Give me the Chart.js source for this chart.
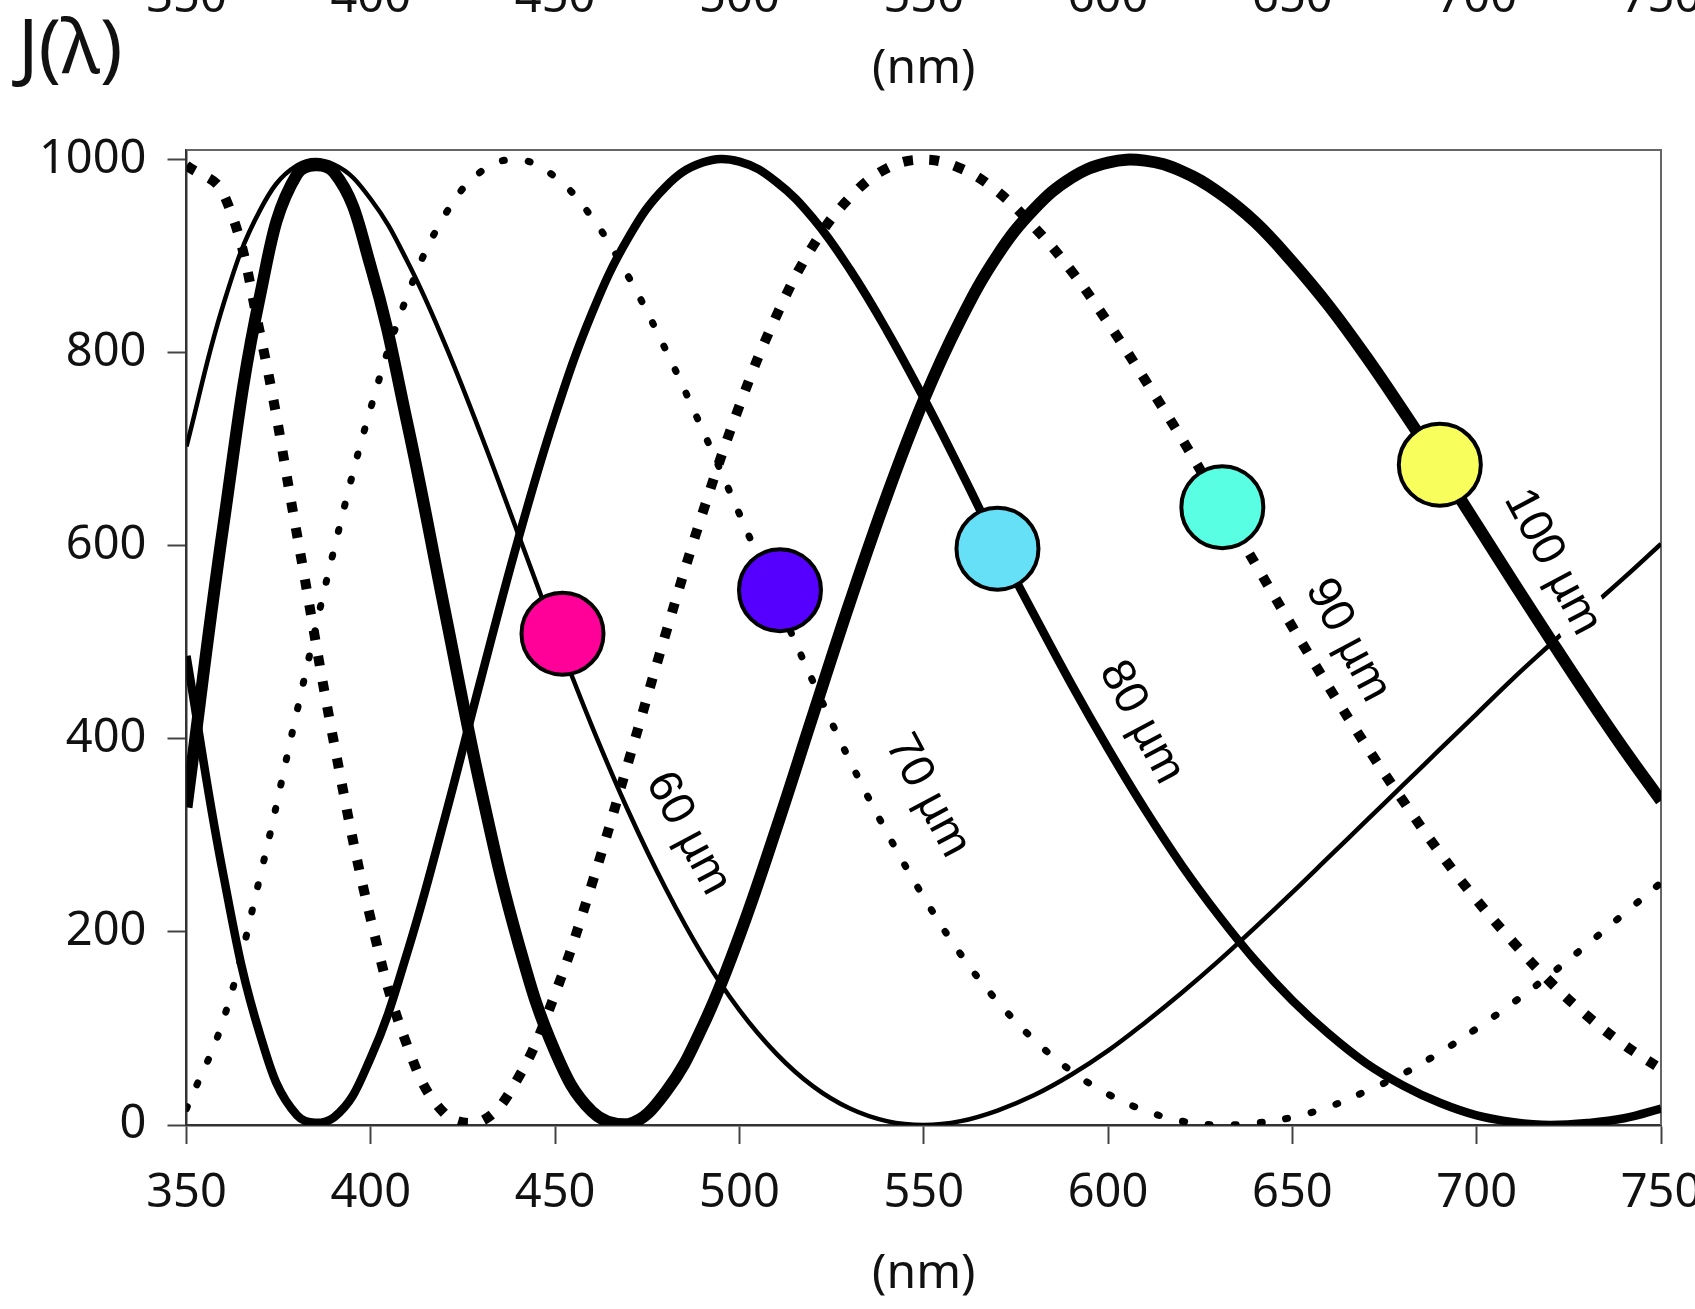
<!DOCTYPE html>
<html>
<head>
<meta charset="utf-8">
<title>J(λ)</title>
<script src="https://cdn.jsdelivr.net/npm/chart.js@4.4.1/dist/chart.umd.min.js"></script>
<style>
  html, body { margin: 0; padding: 0; background: #fff; overflow: hidden; }
  #wrap { width: 1695px; height: 1309px; }
  canvas { display: block; }
</style>
</head>
<body>
<div id="wrap"><canvas id="chart" width="1695" height="1309"></canvas></div>
<script>
// wavelength grid, nm
const wavelengths = [350, 360, 370, 380, 390, 400, 410, 420, 430, 440, 450, 460, 470, 480, 490, 500, 510, 520, 530, 540, 550,
  560, 570, 580, 590, 600, 610, 620, 630, 640, 650, 660, 670, 680, 690, 700, 710, 720, 730, 740, 750];

// transmitted intensity for each plate thickness
const j60 = [703, 850, 948, 994, 995, 959, 894, 810, 714, 612, 510, 413, 324, 245, 176, 119, 74, 40, 17, 4, 0,
  4, 15, 31, 52, 77, 106, 137, 170, 205, 241, 278, 315, 352, 389, 426, 463, 498, 533, 567, 602];
const j70 = [17, 109, 258, 429, 596, 743, 860, 942, 988, 1000, 982, 940, 878, 803, 720, 633, 545, 459, 377, 303, 236,
  177, 128, 88, 56, 32, 15, 4, 0, 2, 8, 19, 35, 53, 75, 100, 127, 156, 187, 219, 251];
const j80 = [486, 259, 93, 10, 8, 70, 180, 317, 464, 607, 735, 841, 920, 972, 997, 998, 977, 939, 886, 823, 753,
  678, 601, 528, 457, 390, 327, 269, 217, 170, 129, 94, 64, 41, 23, 10, 3, 0, 2, 7, 17];
const j90 = [994, 965, 819, 611, 396, 213, 81, 12, 4, 49, 136, 250, 378, 509, 634, 745, 838, 911, 961, 991, 1000,
  991, 967, 930, 885, 831, 772, 711, 646, 581, 516, 453, 393, 336, 282, 233, 189, 148, 113, 83, 58];
const j100 = [329, 621, 860, 985, 987, 889, 725, 534, 346, 189, 76, 14, 1, 34, 102, 196, 307, 425, 542, 652, 751,
  834, 901, 949, 981, 997, 999, 988, 966, 935, 894, 848, 796, 740, 682, 622, 562, 503, 445, 389, 336];

const xTicks = [350, 400, 450, 500, 550, 600, 650, 700, 750];
const yTicks = [0, 200, 400, 600, 800, 1000];

// coloured markers
const markerNm = [452, 511, 570, 631, 690];
const markerJ = [509, 554, 597, 640, 684];
const markerColors = ['#ff0099', '#5500ff', '#66e0f7', '#58ffe2', '#f8ff5c'];

// curve names and where they sit (nm, J)
const curveNames = ['60 µm', '70 µm', '80 µm', '90 µm', '100 µm'];
const nameNm = [486, 551, 609, 665, 720.5];
const nameJ = [302, 341, 417, 502, 583];

Chart.defaults.font.family = "'Noto Sans', sans-serif";
Chart.defaults.color = '#111';

function points(values) {
  return wavelengths.map((x, i) => ({ x: x, y: values[i] }));
}

function curve(values, width, dash, cap) {
  return {
    data: points(values),
    borderColor: '#000',
    borderWidth: width,
    borderDash: dash,
    borderCapStyle: cap,
    pointRadius: 0,
    tension: 0.4,
    fill: false,
    order: 1
  };
}

const decorations = {
  id: 'decorations',
  beforeDatasetsDraw(chart) {
    // top and right edges of the frame
    const { ctx, chartArea: a } = chart;
    ctx.save();
    ctx.strokeStyle = '#666';
    ctx.lineWidth = 2;
    ctx.beginPath();
    ctx.moveTo(a.left, a.top);
    ctx.lineTo(a.right, a.top);
    ctx.lineTo(a.right, a.bottom);
    ctx.stroke();
    ctx.restore();
  },
  afterDatasetsDraw(chart) {
    const { ctx, scales } = chart;
    ctx.save();
    ctx.font = "47px 'Liberation Sans', Arial, sans-serif";
    ctx.textAlign = 'center';
    ctx.textBaseline = 'middle';
    curveNames.forEach((name, i) => {
      const px = scales.x.getPixelForValue(nameNm[i]);
      const py = scales.y.getPixelForValue(nameJ[i]);
      const w = ctx.measureText(name).width;
      ctx.save();
      ctx.translate(px, py);
      ctx.rotate(62 * Math.PI / 180);
      ctx.fillStyle = '#fff';
      ctx.fillRect(-w / 2 - 8, -27, w + 16, 54);
      ctx.fillStyle = '#000';
      ctx.fillText(name, 0, 0);
      ctx.restore();
    });
    ctx.restore();
  },
  afterDraw(chart) {
    const { ctx, scales, chartArea: a } = chart;
    ctx.save();
    ctx.fillStyle = '#111';
    // tick row of the panel above
    ctx.font = "47px 'Noto Sans', sans-serif";
    ctx.textAlign = 'center';
    ctx.textBaseline = 'alphabetic';
    xTicks.forEach(v => ctx.fillText(String(v), scales.x.getPixelForValue(v), 12));
    ctx.font = "48px 'Noto Sans', sans-serif";
    ctx.fillText('(nm)', (a.left + a.right) / 2, 83);
    ctx.font = "75px 'Noto Sans', sans-serif";
    ctx.textAlign = 'left';
    ctx.fillText('J(λ)', 18, 73);
    ctx.restore();
  }
};

new Chart(document.getElementById('chart'), {
  type: 'line',
  data: {
    datasets: [
      {
        data: markerNm.map((x, i) => ({ x: x, y: markerJ[i] })),
        showLine: false,
        pointRadius: 41,
        pointHoverRadius: 41,
        pointBorderWidth: 4,
        pointBorderColor: '#000',
        pointBackgroundColor: markerColors,
        clip: false,
        order: 0
      },
      curve(j60, 4.5, [], 'butt'),
      curve(j70, 7, [2, 24], 'round'),
      curve(j80, 8.5, [], 'butt'),
      curve(j90, 10, [10, 16], 'butt'),
      curve(j100, 12, [], 'butt')
    ]
  },
  options: {
    responsive: false,
    animation: false,
    devicePixelRatio: 1,
    events: [],
    layout: { autoPadding: false, padding: { top: 150, right: 34, bottom: 0, left: 0 } },
    plugins: { legend: { display: false }, tooltip: { enabled: false } },
    scales: {
      x: {
        type: 'linear',
        min: 350,
        max: 750,
        afterBuildTicks: s => { s.ticks = xTicks.map(v => ({ value: v })); },
        afterFit: s => { s.height = 184; s.paddingLeft = 0; s.paddingRight = 0; },
        grid: { drawOnChartArea: false, drawTicks: true, tickLength: 19, tickWidth: 2, tickColor: '#444' },
        border: { display: true, color: '#333', width: 2.5 },
        ticks: { font: { size: 47 }, color: '#111', padding: 21, maxRotation: 0, autoSkip: false, callback: v => String(v) },
        title: { display: true, text: '(nm)', font: { size: 48 }, color: '#111', padding: { top: 0, bottom: 6 } }
      },
      y: {
        min: 0,
        max: 1010,
        afterBuildTicks: s => { s.ticks = yTicks.map(v => ({ value: v })); },
        afterFit: s => { s.width = 186.5; },
        grid: { drawOnChartArea: false, drawTicks: true, tickLength: 19, tickWidth: 2, tickColor: '#444' },
        border: { display: true, color: '#333', width: 2.5 },
        ticks: { font: { size: 47 }, color: '#111', padding: 21, callback: v => String(v) }
      }
    }
  },
  plugins: [decorations]
});
</script>
</body>
</html>
